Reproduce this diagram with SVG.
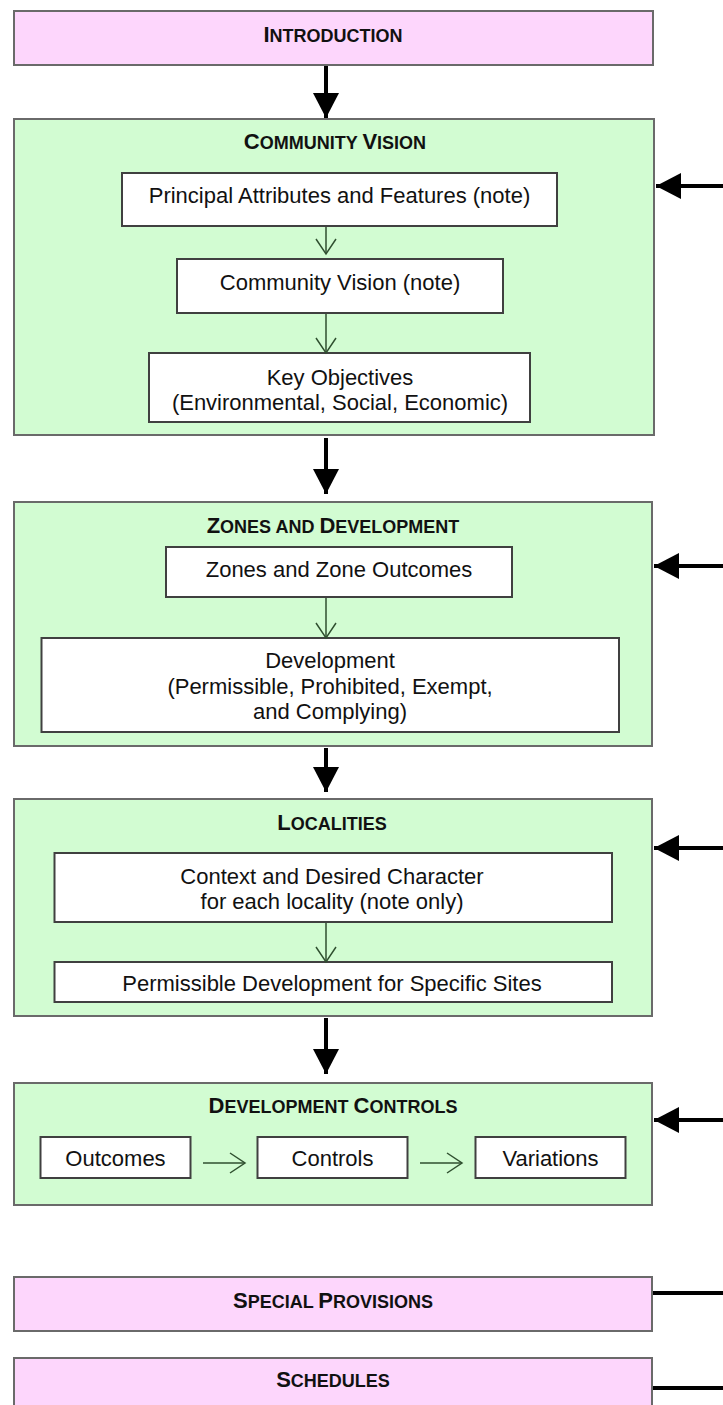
<svg xmlns="http://www.w3.org/2000/svg" width="723" height="1405" viewBox="0 0 723 1405">
<style>
.pink{fill:#fdd6fc;stroke:#6a6a6a;stroke-width:2}
.green{fill:#d2fcd2;stroke:#6a6a6a;stroke-width:2}
.inner{fill:#ffffff;stroke:#404040;stroke-width:2}
.title{font-family:"Liberation Sans",Arial,sans-serif;font-weight:bold;font-size:18px;fill:#111;text-anchor:middle}
.cap{font-size:22px}
.body{font-family:"Liberation Sans",Arial,sans-serif;font-size:22px;fill:#111;text-anchor:middle}
.thick{stroke:#000;stroke-width:4;fill:none}
.thin{stroke:#2f4f2f;stroke-width:1.5;fill:none}
</style>
<defs>
<marker id="big" markerUnits="userSpaceOnUse" markerWidth="26" markerHeight="28" refX="25" refY="13" orient="auto">
<path d="M0,0 L25,13 L0,26 Z" fill="#000"/>
</marker>
<marker id="open" markerUnits="userSpaceOnUse" markerWidth="18" markerHeight="24" refX="16" refY="11" orient="auto">
<path d="M1,1 L16,11 L1,21" fill="none" stroke="#2f4f2f" stroke-width="1.5"/>
</marker>
</defs>

<g id="introduction">
<rect class="pink" x="14" y="11" width="639" height="54"/>
<text class="title" x="333" y="42"><tspan class="cap">I</tspan>NTRODUCTION</text>
</g>

<g id="community-vision">
<rect class="green" x="14" y="119" width="640" height="316"/>
<text class="title" x="335" y="149"><tspan class="cap">C</tspan>OMMUNITY <tspan class="cap">V</tspan>ISION</text>
<g id="principal">
<rect class="inner" x="122" y="173" width="435" height="53"/>
<text class="body" x="339.5" y="203">Principal Attributes and Features (note)</text>
</g>
<g id="cv-note">
<rect class="inner" x="177" y="259" width="326" height="54"/>
<text class="body" x="340" y="290">Community Vision (note)</text>
</g>
<g id="key-objectives">
<rect class="inner" x="149" y="353" width="381" height="69"/>
<text class="body" x="340" y="385">Key Objectives</text>
<text class="body" x="340" y="410">(Environmental, Social, Economic)</text>
</g>
</g>

<g id="zones-development">
<rect class="green" x="14" y="502" width="638" height="244"/>
<text class="title" x="333" y="533"><tspan class="cap">Z</tspan>ONES AND <tspan class="cap">D</tspan>EVELOPMENT</text>
<g id="zones-outcomes">
<rect class="inner" x="166" y="547" width="346" height="50"/>
<text class="body" x="339" y="577">Zones and Zone Outcomes</text>
</g>
<g id="development">
<rect class="inner" x="41.5" y="638" width="577.5" height="94"/>
<text class="body" x="330" y="668">Development</text>
<text class="body" x="330" y="694">(Permissible, Prohibited, Exempt,</text>
<text class="body" x="330" y="719">and Complying)</text>
</g>
</g>

<g id="localities">
<rect class="green" x="14" y="799" width="638" height="217"/>
<text class="title" x="332" y="830"><tspan class="cap">L</tspan>OCALITIES</text>
<g id="context">
<rect class="inner" x="54.5" y="853" width="557.5" height="69"/>
<text class="body" x="332" y="884">Context and Desired Character</text>
<text class="body" x="332" y="909">for each locality (note only)</text>
</g>
<g id="permissible-sites">
<rect class="inner" x="54.5" y="962" width="557.5" height="40"/>
<text class="body" x="332" y="991">Permissible Development for Specific Sites</text>
</g>
</g>

<g id="development-controls">
<rect class="green" x="14" y="1083" width="638" height="122"/>
<text class="title" x="333" y="1113"><tspan class="cap">D</tspan>EVELOPMENT <tspan class="cap">C</tspan>ONTROLS</text>
<g id="outcomes">
<rect class="inner" x="40.5" y="1137" width="150" height="41"/>
<text class="body" x="115.5" y="1166">Outcomes</text>
</g>
<g id="controls">
<rect class="inner" x="257.5" y="1137" width="150" height="41"/>
<text class="body" x="332.5" y="1166">Controls</text>
</g>
<g id="variations">
<rect class="inner" x="475.5" y="1137" width="150" height="41"/>
<text class="body" x="550.5" y="1166">Variations</text>
</g>
</g>

<g id="special-provisions">
<rect class="pink" x="14" y="1277" width="638" height="54"/>
<text class="title" x="333" y="1308"><tspan class="cap">S</tspan>PECIAL <tspan class="cap">P</tspan>ROVISIONS</text>
</g>

<g id="schedules">
<rect class="pink" x="14" y="1358" width="638" height="60"/>
<text class="title" x="333" y="1387"><tspan class="cap">S</tspan>CHEDULES</text>
</g>

<g id="connectors">
<line class="thick" x1="326" y1="66" x2="326" y2="118" marker-end="url(#big)"/>
<line class="thick" x1="326" y1="438" x2="326" y2="494" marker-end="url(#big)"/>
<line class="thick" x1="326" y1="748" x2="326" y2="792" marker-end="url(#big)"/>
<line class="thick" x1="326" y1="1018" x2="326" y2="1074" marker-end="url(#big)"/>
<line class="thin" x1="326" y1="227" x2="326" y2="254" marker-end="url(#open)"/>
<line class="thin" x1="326" y1="314" x2="326" y2="353" marker-end="url(#open)"/>
<line class="thin" x1="326" y1="598" x2="326" y2="638" marker-end="url(#open)"/>
<line class="thin" x1="326" y1="923" x2="326" y2="962" marker-end="url(#open)"/>
<line class="thin" x1="203" y1="1163" x2="245" y2="1163" marker-end="url(#open)"/>
<line class="thin" x1="420" y1="1163" x2="462" y2="1163" marker-end="url(#open)"/>
<line class="thick" x1="723" y1="186" x2="656" y2="186" marker-end="url(#big)"/>
<line class="thick" x1="723" y1="566" x2="654" y2="566" marker-end="url(#big)"/>
<line class="thick" x1="723" y1="848" x2="654" y2="848" marker-end="url(#big)"/>
<line class="thick" x1="723" y1="1120" x2="654" y2="1120" marker-end="url(#big)"/>
<line class="thick" x1="653" y1="1293" x2="723" y2="1293"/>
<line class="thick" x1="653" y1="1388" x2="723" y2="1388"/>
</g>
</svg>
